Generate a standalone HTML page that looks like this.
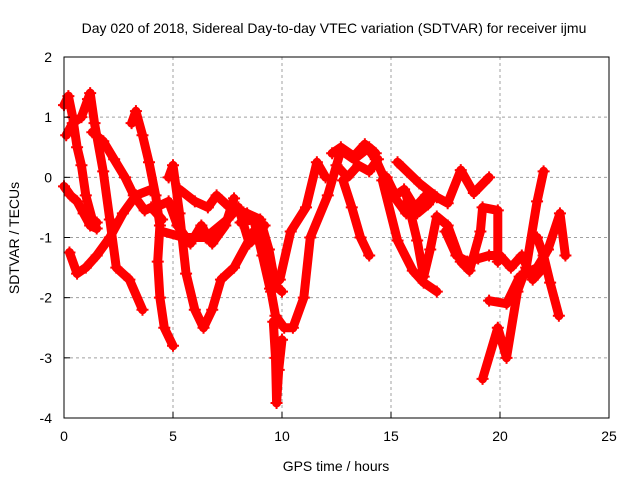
<!DOCTYPE html>
<html><head><meta charset="utf-8"><style>
body{margin:0;background:#fff}
svg{display:block;font-family:"Liberation Sans",sans-serif}
</style></head><body>
<svg id="chart" width="640" height="480" viewBox="0 0 640 480">
<text x="334" y="33" text-anchor="middle" font-size="14">Day 020 of 2018, Sidereal Day-to-day VTEC variation (SDTVAR) for receiver ijmu</text>
<g id="grid"></g>
<g id="series"></g>
<rect x="64" y="57" width="545" height="361" fill="none" stroke="#000" stroke-width="1"/>
<g id="ticks"></g>
<text x="336" y="471" text-anchor="middle" font-size="14">GPS time / hours</text>
<text transform="translate(19,238) rotate(-90)" text-anchor="middle" font-size="14">SDTVAR / TECUs</text>
</svg>
<script>
const xTicks=[0,5,10,15,20,25];
const yTicks=[-4,-3,-2,-1,0,1,2];
const trace1=[[0,1.2],[0.2,1.35],[0.4,1.0],[0.6,0.5],[0.8,0.2],[1.0,-0.3],[1.3,-0.7],[1.5,-0.75]];
const trace2=[[0,-0.15],[0.3,-0.3],[0.6,-0.4],[0.9,-0.6],[1.2,-0.8],[1.5,-0.85]];
const trace3=[[0.1,0.7],[0.4,0.9],[0.8,1.0],[1.1,1.3],[1.2,1.4],[1.4,0.9],[1.8,0.1],[2.1,-0.7],[2.4,-1.5],[3.0,-1.7],[3.6,-2.2]];
const trace4=[[1.3,0.75],[1.8,0.6],[2.3,0.3],[2.8,0.0],[3.2,-0.3],[3.7,-0.55],[4.0,-0.5],[4.5,-0.7]];
const trace5=[[0.25,-1.25],[0.6,-1.6],[1.0,-1.5],[1.5,-1.3],[2.1,-1.0],[2.7,-0.6],[3.3,-0.3],[4.0,-0.2]];
const trace6=[[3.1,0.9],[3.3,1.1],[3.6,0.7],[3.9,0.25],[4.2,-0.3],[4.4,-0.8],[4.3,-1.4],[4.4,-2.0],[4.6,-2.5],[5.0,-2.8]];
const trace7=[[4.8,0],[5.0,0.2],[5.3,-0.6],[5.6,-1.6],[6.0,-2.2],[6.4,-2.5],[6.8,-2.2],[7.2,-1.7],[7.8,-1.5],[8.7,-0.9],[9.2,-0.8]];
const trace8=[[4.5,-0.9],[5.5,-1.0],[6.5,-1.0],[7.5,-0.7],[8.0,-0.5],[8.5,-1.1],[9.0,-0.9]];
const trace9=[[5.3,-0.2],[6.0,-0.4],[6.6,-0.5],[7.0,-0.3],[7.6,-0.5],[8.4,-0.6],[9.0,-0.7],[9.4,-1.2],[9.7,-1.8],[10.0,-1.9]];
const trace10=[[8.1,-0.75],[8.7,-0.7],[9.1,-1.3],[9.45,-1.85],[9.9,-1.7],[10.4,-0.9],[11.1,-0.5],[11.6,0.25],[12.0,0.0]];
const trace11=[[9.5,-1.9],[9.7,-2.3],[10.1,-2.5],[10.5,-2.5],[11.0,-2.0],[11.3,-1.0],[12.1,-0.3],[12.7,0.45],[13.3,0.3],[14.0,0.5],[14.3,0.4]];
const trace12=[[9.6,-2.4],[9.7,-3.0],[9.75,-3.75],[9.85,-3.2],[10.0,-2.7]];
const trace13=[[12.3,0.4],[12.7,0.5],[13.3,0.35],[13.8,0.55],[14.3,0.3],[14.8,-0.1],[15.3,-0.4],[15.7,-0.6],[16.2,-0.6],[16.7,-0.45],[17.0,-0.3]];
const trace14=[[12.8,-0.05],[13.2,-0.5],[13.6,-1.0],[14.0,-1.3]];
const trace15=[[14.6,-0.05],[15.3,-1.05],[16.0,-1.55],[16.5,-1.75],[17.1,-1.9]];
const trace16=[[15.3,0.25],[16.3,-0.1],[17.1,-0.33],[17.6,-0.43],[18.2,0.12],[18.8,-0.26],[19.5,0.0]];
const trace17=[[15.7,-0.3],[16.2,-1.05],[16.5,-1.65],[16.8,-1.2],[17.1,-0.65],[17.6,-0.8],[18.2,-1.4],[18.6,-1.55],[19.1,-0.9],[19.2,-0.5],[19.9,-0.55],[19.9,-1.4]];
const trace21=[[19.5,-2.05],[20.3,-2.1],[20.9,-1.65],[21.7,-1.5],[22.2,-1.2],[22.75,-0.6],[23.0,-1.3]];
const trace18=[[19.2,-3.35],[19.9,-2.5],[20.3,-3.0],[20.8,-1.9],[21.2,-1.5],[21.7,-0.4],[22.0,0.1]];
const trace19=[[21.7,-1.0],[22.0,-1.3],[22.3,-1.75],[22.7,-2.3]];
const trace20=[[17.5,-0.9],[18.0,-1.3],[18.5,-1.4],[19.0,-1.35],[19.5,-1.3],[20.0,-1.3],[20.5,-1.5],[21.0,-1.3],[21.5,-1.7],[22.0,-1.5]];
const trace22=[[4.2,-0.5],[4.8,-0.4],[5.2,-0.8],[5.8,-1.1],[6.3,-0.8],[6.8,-1.1],[7.4,-0.8],[7.8,-0.35]];
const trace23=[[12.5,0.2],[13.0,0.0],[13.5,0.2],[14.0,0.1],[14.4,0.3]];
const trace24=[[14.8,0.0],[15.2,-0.3],[15.6,-0.2],[16.1,-0.5],[16.6,-0.3]];
const traces=[trace1,trace2,trace3,trace4,trace5,trace6,trace7,trace8,trace9,trace10,trace11,trace12,trace13,trace14,trace15,trace16,trace17,trace18,trace19,trace20,trace21,trace22,trace23,trace24];

const X0=64,X1=609,Y0=418,Y1=57;
function sx(h){return X0+(h-0)/(25-0)*(X1-X0);}
function sy(v){return Y0-(v-(-4))/(2-(-4))*(Y0-Y1);}
const NS='http://www.w3.org/2000/svg';
const grid=document.getElementById('grid'),ticks=document.getElementById('ticks'),ser=document.getElementById('series');
function mk(t,a){const e=document.createElementNS(NS,t);for(const k in a)e.setAttribute(k,a[k]);return e;}
xTicks.forEach(t=>{
  const x=sx(t);
  if(t>0&&t<25){const g=mk('line',{x1:x,x2:x,y1:Y1,y2:Y0,stroke:'#a0a0a0','stroke-dasharray':'3,3'});
  
  grid.appendChild(g);}
  const l=mk('line',{x1:x,x2:x,y1:Y0,y2:Y0-6,stroke:'#000'});
  
  ticks.appendChild(l);
  const tx=mk('text',{x:x,y:Y0+23,'text-anchor':'middle','font-size':'14'});tx.textContent=t;
  
  ticks.appendChild(tx);
});
yTicks.forEach(t=>{
  const y=sy(t);
  if(t>-4&&t<2){const g=mk('line',{x1:X0,x2:X1,y1:y,y2:y,stroke:'#a0a0a0','stroke-dasharray':'3,3'});
  
  grid.appendChild(g);}
  const l=mk('line',{x1:X0,x2:X0+6,y1:y,y2:y,stroke:'#000'});
  
  ticks.appendChild(l);
  const tx=mk('text',{x:X0-12,y:y+5,'text-anchor':'end','font-size':'14'});tx.textContent=t;
  
  ticks.appendChild(tx);
});
traces.forEach(tr=>{
  const pts=tr.map(p=>sx(p[0]).toFixed(1)+','+sy(p[1]).toFixed(1)).join(' ');
  const pl=mk('polyline',{points:pts,fill:'none',stroke:'#ff0000','stroke-width':'9','stroke-linejoin':'round','stroke-linecap':'round'});
  
  
  ser.appendChild(pl);
  tr.forEach(p=>{
    const x=sx(p[0]),y=sy(p[1]);
    const m=mk('path',{d:`M${x-6} ${y}H${x+6}M${x} ${y-6}V${y+6}`,stroke:'#ff0000','stroke-width':'2'});
    
    
    ser.appendChild(m);
  });
});
</script>
</body></html>
